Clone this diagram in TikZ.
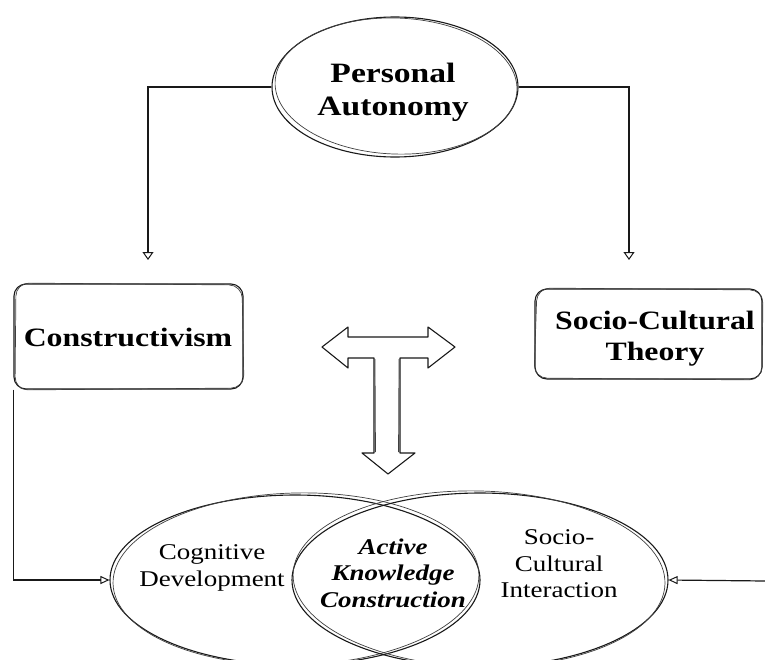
\documentclass[tikz,border=0pt]{standalone}
\usepackage{fontspec}
\setmainfont{Liberation Serif}[FakeStretch=1.2]
\usetikzlibrary{shapes.geometric,arrows.meta}

% text styles
\newcommand\headfont{\bfseries\fontsize{28}{33}\selectfont}
\newcommand\boxfont{\bfseries\fontsize{26.5}{31}\selectfont}
\newcommand\ovalfont{\fontsize{22.5}{26.5}\selectfont}

\begin{document}
\begin{tikzpicture}[x=1pt,y=-1pt,
  ink/.style={draw=black!90,line width=1.1pt},
  faint/.style={draw=black!75,line width=0.7pt},
  oval/.style={ellipse,ink,inner sep=0pt},
  card/.style={rectangle,ink,rounded corners=12pt,inner sep=0pt},
  label/.style={align=center,inner sep=0pt,text=black},
  link/.style={draw=black!90,line width=1.2pt},
  bigtip/.style={-{Triangle[open,length=8pt,width=11pt,line width=1pt]}},
  smalltip/.style={-{Triangle[open,length=9pt,width=8pt,line width=1pt]}}]

\useasboundingbox (0,0) rectangle (765,659);
\clip (0,0) rectangle (765,659);
\fill[white] (0,0) rectangle (765,659);

% ---- top oval ----
\node[oval,minimum width=246pt,minimum height=140pt] (pa) at (395,87) {};
\draw[faint,rotate around={-2:(395,87)}] (396,86) ellipse [x radius=121,y radius=68];
\node[label,font=\headfont] (pat) at (393,92) {Personal\\Autonomy};

% ---- theory boxes ----
\node[card,minimum width=229pt,minimum height=105pt] (cons) at (128.5,336.5) {};
\draw[faint,rounded corners=13pt] (16,283) -- (242,285) -- (244,388) -- (15,390) -- cycle;
\node[label,font=\boxfont] (const) at (128,337) {Constructivism};

\node[card,minimum width=227pt,minimum height=90pt] (sct) at (648.5,334) {};
\draw[faint,rounded corners=13pt] (537,288) -- (763,290) -- (762,380) -- (534,378) -- cycle;
\node[label,font=\boxfont] (sctt) at (655,338.5) {Socio-Cultural\\Theory};

% ---- connectors from the top oval ----
\coordinate (ca) at (148,260);
\coordinate (sa) at (629,260);
\draw[link,bigtip] (pa.west) -| (ca);
\draw[link,bigtip] (pa.east) -| (sa);

% ---- T-shaped block arrow ----
\draw[ink,line join=round]
  (322,347) -- (348,327) -- (348,337) -- (428,337) -- (428,327) -- (455,347)
  -- (428,368) -- (428,358) -- (400,358) -- (400,453) -- (415,453) -- (388,474)
  -- (362,453) -- (374,453) -- (374,358) -- (348,358) -- (348,368) -- cycle;
\draw[faint] (375,359) -- (375.5,452);
\draw[faint] (399,359) -- (398.5,452);

% ---- overlapping ovals ----
\node[oval,minimum width=370pt,minimum height=170pt] (cog) at (295,580) {};
\draw[faint,rotate around={1.5:(295,580)}] (296,579) ellipse [x radius=183,y radius=86];
\node[oval,minimum width=376pt,minimum height=174pt] (soc) at (480,580) {};
\draw[faint,rotate around={-1.5:(480,580)}] (479,579) ellipse [x radius=186,y radius=88];

\node[label,font=\ovalfont] (cogt) at (212,568) {Cognitive\\Development};
\node[label,font=\ovalfont\bfseries\itshape] (akc) at (393,573) {Active\\Knowledge\\Construction};
\node[label,font=\ovalfont] (soct) at (559,564) {Socio-\\Cultural\\Interaction};

% ---- side connectors into the ovals ----
\coordinate (re) at (766,581);
\draw[link,smalltip] (cons.south west) |- (cog.west);
\draw[link,smalltip] (re) -- (soc.east);

\end{tikzpicture}
\end{document}
